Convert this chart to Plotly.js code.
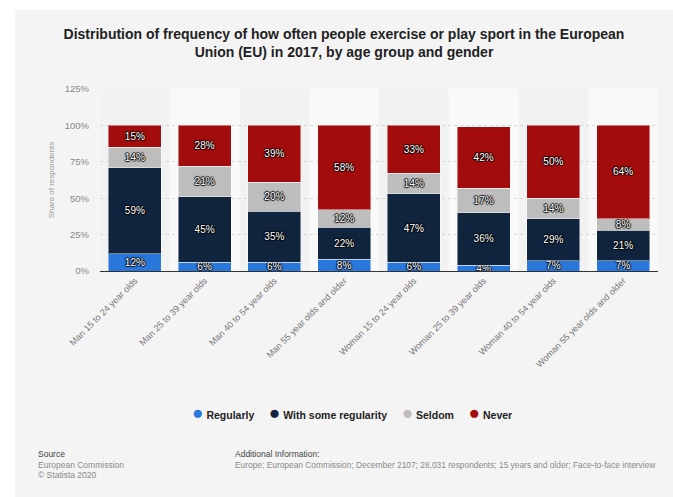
<!DOCTYPE html>
<html>
<head>
<meta charset="utf-8">
<script src="https://cdn.plot.ly/plotly-3.0.1.min.js"></script>
<style>
  html, body { margin: 0; padding: 0; background: #ffffff; width: 673px; height: 497px; overflow: hidden; }
  #chart { position: absolute; left: 15px; top: 10px; width: 658px; height: 487px; }
</style>
</head>
<body>
<div id="chart"></div>
<script>
const categories = [
  "Man 15 to 24 year olds",
  "Man 25 to 39 year olds",
  "Man 40 to 54 year olds",
  "Man 55 year olds and older",
  "Woman 15 to 24 year olds",
  "Woman 25 to 39 year olds",
  "Woman 40 to 54 year olds",
  "Woman 55 year olds and older"
];
const regularly = [12, 6, 6, 8, 6, 4, 7, 7];
const someRegularity = [59, 45, 35, 22, 47, 36, 29, 21];
const seldom = [14, 21, 20, 12, 14, 17, 14, 8];
const never = [15, 28, 39, 58, 33, 42, 50, 64];
const seriesNames = ["Regularly", "With some regularity", "Seldom", "Never"];
const seriesColors = ["#2a77dc", "#10243e", "#bdbdbd", "#a30c0c"];
const yTicks = [0, 25, 50, 75, 100, 125];

const seriesValues = [regularly, someRegularity, seldom, never];
const FONT = "Liberation Sans, Arial, sans-serif";

const traces = seriesValues.map((vals, i) => ({
  type: "bar",
  x: categories,
  y: vals,
  name: seriesNames[i],
  showlegend: false,
  marker: { color: seriesColors[i], line: { color: "rgba(255,255,255,0.45)", width: 1 } },
  text: vals.map(v => v + "%"),
  texttemplate: "%{text}",
  textposition: "inside",
  insidetextanchor: "middle",
  constraintext: "none",
  textangle: 0,
  textfont: { family: FONT, size: 10, color: "#ffffff",
              shadow: "-1px 0 1px #000, 1px 0 1px #000, 0 1px 1px #000, 0 -1px 1px #000" },
  hoverinfo: "skip"
}));

// alternating column bands
const shapes = [];
categories.forEach((c, i) => {
  if (i % 2 === 1) {
    shapes.push({ type: "rect", xref: "x", yref: "paper", x0: i - 0.5, x1: i + 0.5, y0: 0, y1: 1,
      fillcolor: "#f9f9f9", line: { width: 0 }, layer: "below" });
  }
});

// legend built as one line of text with coloured dots
const legendText = seriesNames.map((n, i) =>
  `<span style="color:${seriesColors[i]};font-size:19px">●</span> <b>${n}</b>`).join("&nbsp;&nbsp;&nbsp;&nbsp;&nbsp;");

const gray = "#8a8a8a";
const annotations = [
  { text: legendText, x: 0.4525, y: -0.778, xanchor: "center", font: { size: 10.5, color: "#222" } },
  { text: "Source", x: -0.115, y: -1.008, font: { size: 8.5, color: "#444" } },
  { text: "European Commission", x: -0.115, y: -1.068, font: { size: 8.5, color: gray } },
  { text: "© Statista 2020", x: -0.115, y: -1.123, font: { size: 8.5, color: gray } },
  { text: "Additional Information:", x: 0.238, y: -1.008, font: { size: 8.5, color: "#444" } },
  { text: "Europe; European Commission; December 2107; 28,031 respondents; 15 years and older; Face-to-face interview",
    x: 0.238, y: -1.068, font: { size: 8.4, color: gray } }
].map(a => Object.assign({ xref: "paper", yref: "paper", xanchor: "left", yanchor: "middle", showarrow: false }, a,
  { font: Object.assign({ family: FONT }, a.font) }));

const layout = {
  width: 658, height: 487,
  paper_bgcolor: "#f4f4f4",
  plot_bgcolor: "#f2f2f2",
  margin: { l: 85, r: 15, t: 78.5, b: 226 },
  barmode: "stack",
  bargap: 0.24,
  showlegend: false,
  title: {
    text: "<b>Distribution of frequency of how often people exercise or play sport in the European<br>Union (EU) in 2017, by age group and gender</b>",
    font: { family: FONT, size: 14, color: "#222" },
    x: 0.5, xanchor: "center", xref: "container",
    y: 0.941, yanchor: "top", yref: "container"
  },
  xaxis: {
    type: "category",
    tickangle: -45,
    tickfont: { family: FONT, size: 9, color: "#777" },
    showgrid: false,
    showline: true, linecolor: "#333", linewidth: 1,
    ticks: "",
    fixedrange: true
  },
  yaxis: {
    range: [0, 125],
    tickvals: yTicks,
    ticktext: yTicks.map(v => v + "%"),
    tickfont: { family: FONT, size: 9.5, color: "#888" },
    ticklabelstandoff: 10,
    showgrid: true, gridcolor: "#d8d8d8", griddash: "dot", gridwidth: 1,
    zeroline: false,
    ticks: "", ticklen: 0,
    title: { text: "Share of respondents", font: { family: FONT, size: 8, color: "#999" }, standoff: 8 },
    fixedrange: true
  },
  shapes: shapes,
  annotations: annotations
};

Plotly.newPlot("chart", traces, layout, { staticPlot: true, displayModeBar: false });
</script>
</body>
</html>
